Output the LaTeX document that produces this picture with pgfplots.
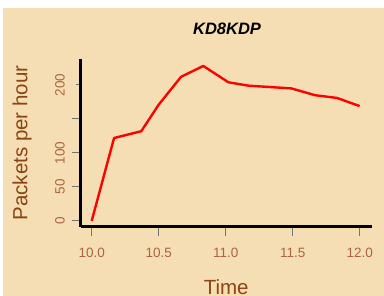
\documentclass[border=0pt]{standalone}
\usepackage{pgfplots}
\pgfplotsset{compat=1.18}
\usepackage{fontspec}
\setmainfont{Liberation Sans}
\definecolor{bg}{RGB}{245,222,179}
\definecolor{lab}{RGB}{139,69,19}
\definecolor{tlab}{RGB}{170,100,65}
\begin{document}
\begin{tikzpicture}
\path[use as bounding box] (0pt,0pt) rectangle (384pt,296pt);
\fill[white] (0pt,0pt) rectangle (384pt,296pt);
\fill[bg] (3pt,0pt) rectangle (384pt,288pt);
\begin{axis}[
  at={(80.7pt,69.3pt)}, anchor=south west,
  scale only axis, width=291pt, height=167.4pt,
  xmin=9.918, xmax=12.09, ymin=-8.4, ymax=237.8,
  axis x line*=bottom, axis y line*=left,
  axis line style={black, line width=2.4pt, -},
  xtick={10,10.5,11,11.5,12},
  xticklabels={10.0,10.5,11.0,11.5,12.0},
  ytick={0,50,100,150,200},
  yticklabels={0,50,100,,200},
  tick align=outside,
  major tick length=9pt,
  tick style={black!55, line width=1pt},
  ytick style={shorten <=4pt},
  /pgf/number format/assume math mode=true,
  ticklabel style={font=\fontsize{13.5}{15}\selectfont, text=tlab},
  xticklabel style={anchor=base, yshift=-22pt},
  yticklabel style={rotate=90, anchor=base, yshift=7pt},
  title={\bfseries\itshape KD8KDP},
  title style={at={(axis description cs:0.503,1.111)}, anchor=base, font=\fontsize{16.5}{18}\selectfont, text=black},
  xlabel={Time},
  xlabel style={at={(axis description cs:0.5,-0.405)}, anchor=base, font=\fontsize{20.5}{22}\selectfont, text=lab},
  ylabel={Packets per hour},
  ylabel style={at={(axis description cs:-0.183,0.5)}, anchor=base, rotate=0, font=\fontsize{20.5}{22}\selectfont, text=lab},
]
\addplot[red, line width=2.4pt, line join=round] coordinates {
(10.0,0) (10.167,122) (10.37,132) (10.5,171) (10.667,212) (10.833,228)
(11.02,204) (11.17,199) (11.49,195) (11.667,185) (11.83,181) (12.0,169)
};
\end{axis}
\end{tikzpicture}
\end{document}
